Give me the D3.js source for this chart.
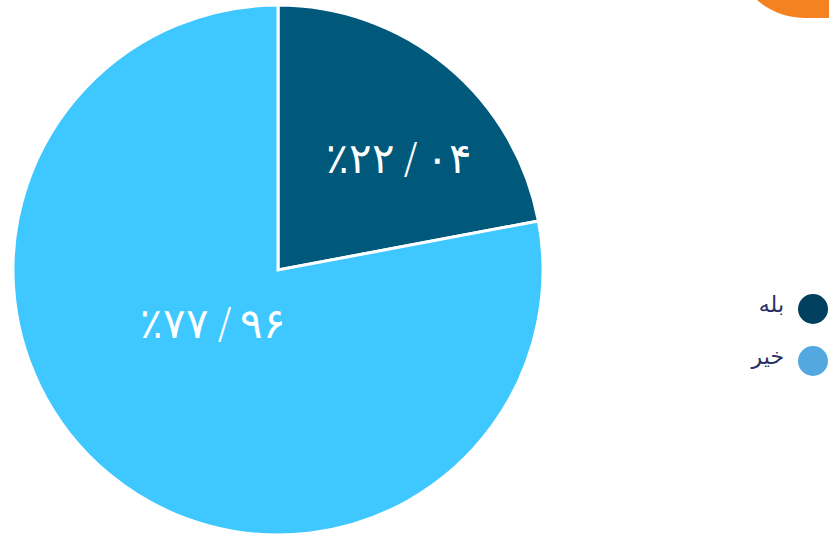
<!DOCTYPE html>
<html lang="fa">
<head>
<meta charset="UTF-8">
<title>pie</title>
<script src="https://d3js.org/d3.v7.min.js"></script>
<style>
  body { margin: 0; background: #fff; }
  svg { display: block; }
</style>
</head>
<body>
<svg id="chart" width="829" height="534"></svg>
<script>
// داده ها
const categories = ["بله", "خیر"];
const values = [22.04, 77.96];
const sliceColors = ["#00587b", "#3ec8ff"];
const legendColors = ["#013f5e", "#52a8df"];

const svg = d3.select("#chart");

// شکل نارنجی گوشه بالا
svg.append("rect")
  .attr("x", 732).attr("y", -200)
  .attr("width", 300).attr("height", 218)
  .attr("rx", 73)
  .attr("fill", "#f58220");

const cx = 278, cy = 270, radius = 265;

const pie = d3.pie().sort(null).value(d => d);
const arc = d3.arc().innerRadius(0).outerRadius(radius);

const g = svg.append("g").attr("transform", `translate(${cx},${cy})`);
const arcs = pie(values);

g.selectAll("path")
  .data(arcs)
  .join("path")
  .attr("d", arc)
  .attr("fill", (d, i) => sliceColors[i])
  .attr("stroke", "#fff")
  .attr("stroke-width", 3)
  .attr("stroke-linejoin", "miter");

function persian(s) {
  return s.replace(/[0-9]/g, c => "۰۱۲۳۴۵۶۷۸۹"[+c]);
}
function fmt(v) {
  const parts = v.toFixed(2).split(".");
  return "٪" + persian(parts[0]) + "\u2009/\u2009" + persian(parts[1]);
}

// برچسب ها
const labelPos = [[121, -112], [-65, 53]];
g.selectAll("text.lbl")
  .data(arcs)
  .join("text")
  .attr("class", "lbl")
  .attr("x", (d, i) => labelPos[i][0])
  .attr("y", (d, i) => labelPos[i][1])
  .attr("text-anchor", "middle")
  .attr("dominant-baseline", "central")
  .attr("direction", "ltr")
  .attr("fill", "#fff")
  .style("font-family", "DejaVu Sans")
  .style("font-weight", 200)
  .style("font-size", "42px")
  .text(d => fmt(d.data));

// راهنما
const legend = svg.append("g");
const legendY = d3.scalePoint().domain(categories).range([309, 361]);
legend.selectAll("circle")
  .data(categories)
  .join("circle")
  .attr("cx", 813)
  .attr("cy", d => legendY(d))
  .attr("r", 15)
  .attr("fill", (d, i) => legendColors[i]);
legend.selectAll("text")
  .data(categories)
  .join("text")
  .attr("x", 784)
  .attr("y", d => legendY(d) - 5)
  .attr("text-anchor", "end")
  .attr("dominant-baseline", "central")
  .attr("fill", "#2b2f66")
  .style("font-family", "DejaVu Sans")
  .style("font-size", "22px")
  .text(d => d);
</script>
</body>
</html>
